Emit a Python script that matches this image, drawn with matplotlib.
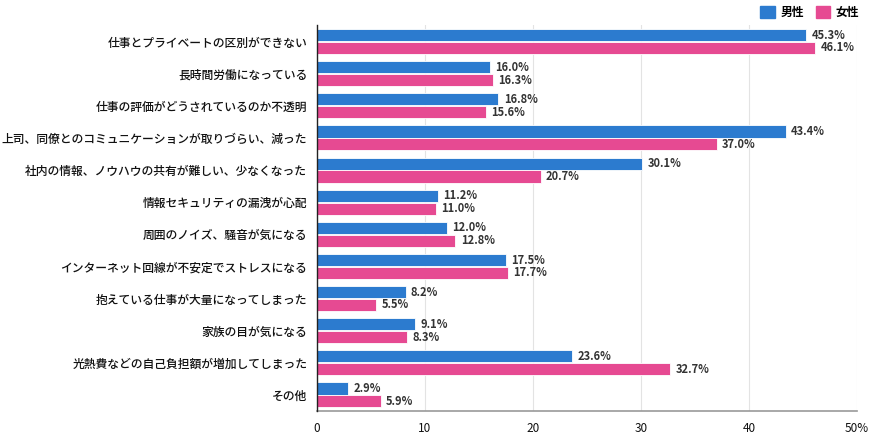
import numpy as np
import matplotlib
matplotlib.use('Agg')
import matplotlib.pyplot as plt
from matplotlib.patches import Patch

plt.rcParams['font.family'] = ['Noto Sans CJK JP', 'DejaVu Sans']

categories = [
    '仕事とプライベートの区別ができない',
    '長時間労働になっている',
    '仕事の評価がどうされているのか不透明',
    '上司、同僚とのコミュニケーションが取りづらい、減った',
    '社内の情報、ノウハウの共有が難しい、少なくなった',
    '情報セキュリティの漏洩が心配',
    '周囲のノイズ、騒音が気になる',
    'インターネット回線が不安定でストレスになる',
    '抱えている仕事が大量になってしまった',
    '家族の目が気になる',
    '光熱費などの自己負担額が増加してしまった',
    'その他',
]
male = [45.3, 16.0, 16.8, 43.4, 30.1, 11.2, 12.0, 17.5, 8.2, 9.1, 23.6, 2.9]
female = [46.1, 16.3, 15.6, 37.0, 20.7, 11.0, 12.8, 17.7, 5.5, 8.3, 32.7, 5.9]
series_names = ['男性', '女性']
xticks = [0, 10, 20, 30, 40, 50]
xtick_labels = ['0', '10', '20', '30', '40', '50%']

blue = '#2c7bcf'
pink = '#e64a92'

fig = plt.figure(figsize=(8.7, 4.45), dpi=100)
ax = fig.add_axes([0.3644, 0.0764, 0.6207, 0.8663])

y = np.arange(len(categories))
h = 0.38
ax.barh(y - 0.2, male, height=h, color=blue, edgecolor='white', linewidth=0.6, zorder=3)
ax.barh(y + 0.2, female, height=h, color=pink, edgecolor='white', linewidth=0.6, zorder=3)

for i in range(len(categories)):
    ax.text(male[i] + 0.5, y[i] - 0.2, f'{male[i]:.1f}%', va='center', ha='left',
            fontsize=8, fontweight='bold', color='#333333')
    ax.text(female[i] + 0.5, y[i] + 0.2, f'{female[i]:.1f}%', va='center', ha='left',
            fontsize=8, fontweight='bold', color='#333333')

ax.set_ylim(len(categories) - 0.5, -0.5)
ax.set_xlim(0, 50)
ax.set_yticks(y)
ax.set_yticklabels(categories, fontsize=8.5, color='#111111', fontweight='medium')
ax.set_xticks(xticks)
ax.set_xticklabels(xtick_labels, fontsize=8.5, color='#111111')
ax.tick_params(axis='y', length=0, pad=7)
ax.tick_params(axis='x', length=0, pad=8)

ax.grid(axis='x', color='#e3e3e3', linewidth=0.8, zorder=0)
for s in ['top', 'right']:
    ax.spines[s].set_visible(False)
ax.spines['left'].set_color('#222222')
ax.spines['left'].set_linewidth(1.0)
ax.spines['left'].set_zorder(4)
ax.spines['bottom'].set_color('#999999')
ax.spines['bottom'].set_linewidth(1.2)

handles = [Patch(color=blue), Patch(color=pink)]
fig.legend(handles, series_names, loc='upper right', bbox_to_anchor=(1.0, 1.01), ncol=2,
           frameon=False, handlelength=1.2, handleheight=1.2,
           handletextpad=0.5, columnspacing=1.0, prop={'weight': 'bold', 'size': 8.5})

fig.savefig('out.png', dpi=100)
